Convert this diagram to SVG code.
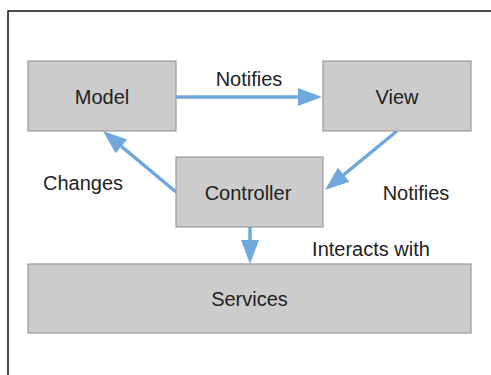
<svg xmlns="http://www.w3.org/2000/svg" width="491" height="375" viewBox="0 0 491 375">
<style>
.box{fill:#cccccc;stroke:#9a9a9a;stroke-width:1.2}
.lbl{font-family:"Liberation Sans",Arial,sans-serif;font-size:20px;fill:#222;text-anchor:middle}
.edge{stroke:#6fa8dc;stroke-width:3.5;fill:none;marker-end:url(#ah)}
</style>
<defs>
<marker id="ah" markerUnits="userSpaceOnUse" markerWidth="24" markerHeight="18" viewBox="0 0 24 18" refX="0" refY="9" orient="auto" overflow="visible">
<path d="M0,0 L24,9 L0,18 Z" fill="#6fa8dc"/>
</marker>
</defs>
<rect width="491" height="375" fill="#ffffff"/>
<path d="M8,375 L8,11 L491,11" fill="none" stroke="#111" stroke-width="1.5"/>
<g id="connectors">
<line class="edge" x1="176" y1="97" x2="298" y2="97"/>
<line class="edge" x1="397" y1="131" x2="343.6" y2="174.8"/>
<line class="edge" x1="176" y1="192" x2="121.4" y2="146.4"/>
<line class="edge" x1="250" y1="227" x2="250" y2="240"/>
<text class="lbl" x="249" y="86">Notifies</text>
<text class="lbl" x="83" y="190">Changes</text>
<text class="lbl" x="416" y="200">Notifies</text>
<text class="lbl" x="371" y="256">Interacts with</text>
</g>
<g id="model">
<rect class="box" x="28" y="61" width="148" height="70"/>
<text class="lbl" x="102" y="104">Model</text>
</g>
<g id="view">
<rect class="box" x="323" y="61" width="148" height="70"/>
<text class="lbl" x="397" y="104">View</text>
</g>
<g id="controller">
<rect class="box" x="176" y="157" width="147" height="70"/>
<text class="lbl" x="248" y="199.5">Controller</text>
</g>
<g id="services">
<rect class="box" x="28" y="264" width="443" height="69"/>
<text class="lbl" x="249.5" y="306">Services</text>
</g>
</svg>
